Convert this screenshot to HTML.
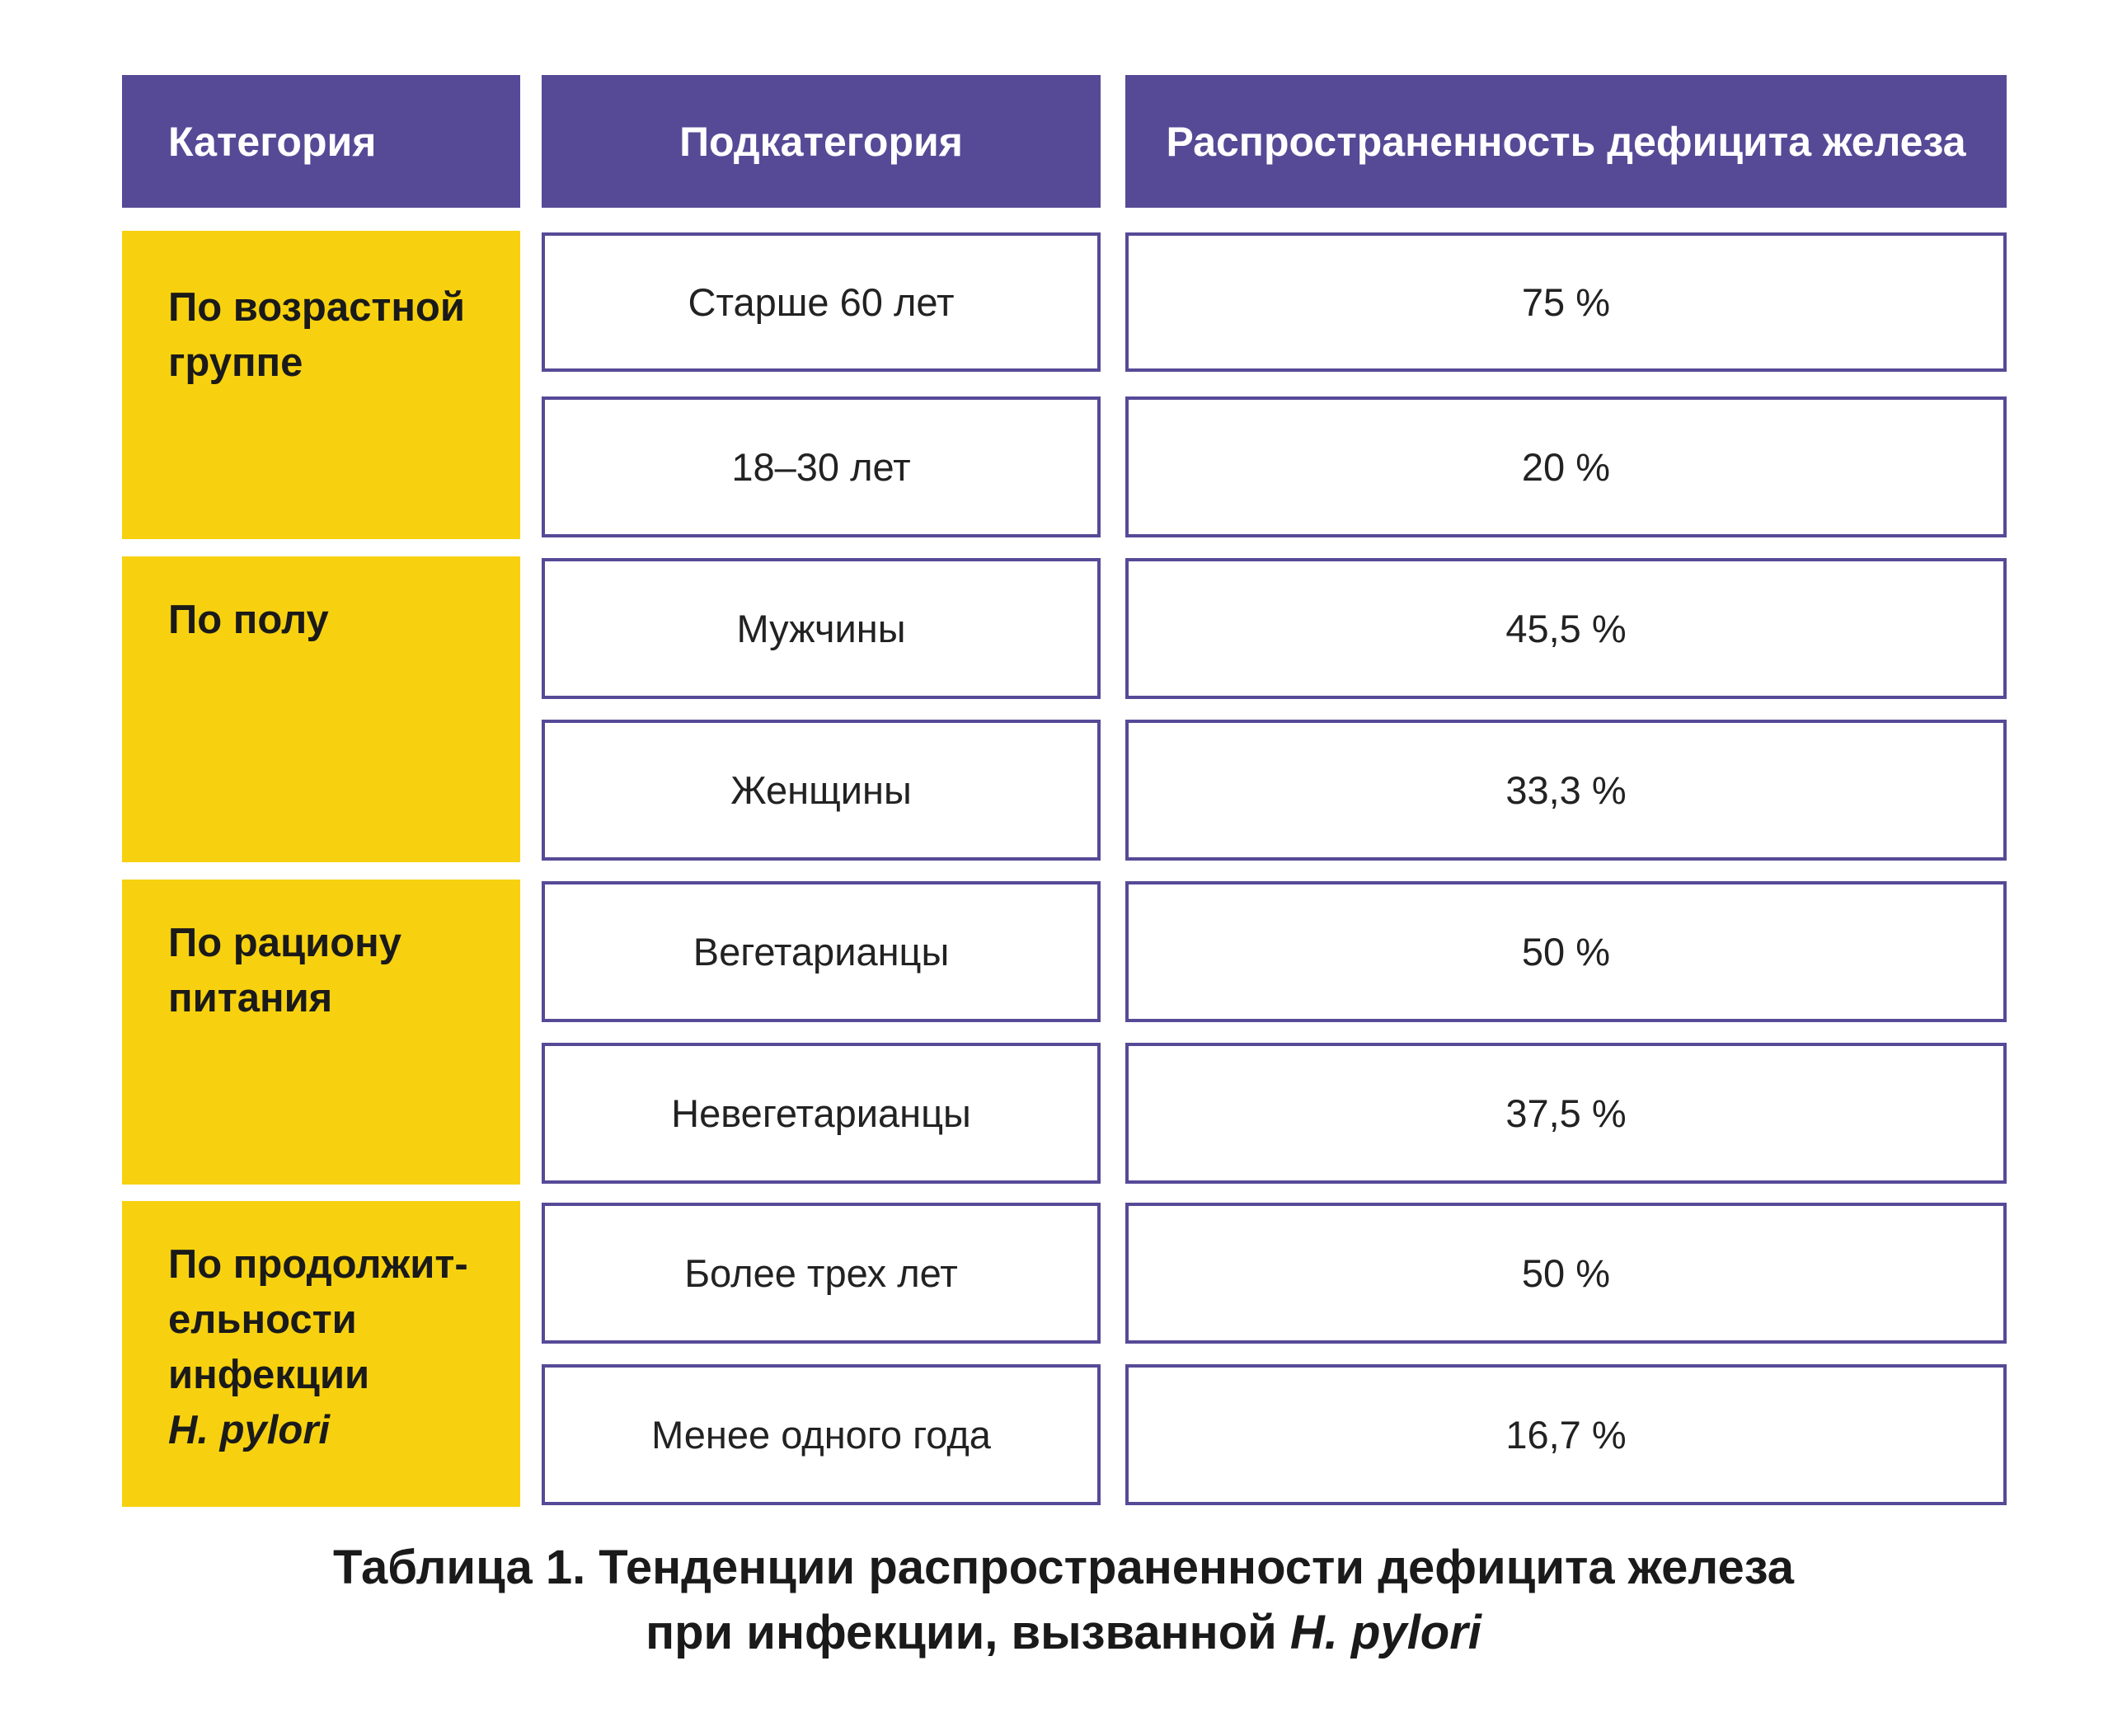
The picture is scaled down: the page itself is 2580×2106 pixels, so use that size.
<!DOCTYPE html>
<html><head><meta charset="utf-8"><style>
html,body{margin:0;padding:0;background:#fff;}
body{width:2580px;height:2106px;position:relative;overflow:hidden;font-family:"Liberation Sans","Noto Sans CJK SC",sans-serif;}
.b{position:absolute;box-sizing:border-box;}
.h{background:#564a97;color:#fff;font-weight:bold;font-size:50px;display:flex;align-items:center;}
.y{background:#f7d10f;color:#1a1a1a;font-weight:bold;font-size:49px;line-height:67px;padding:60px 0 0 56px;}
.c{border:4px solid #564a97;background:#fff;color:#222;font-size:47px;display:flex;align-items:center;justify-content:center;}
.cap{position:absolute;left:0;width:2580px;text-align:center;font-weight:bold;font-size:58px;color:#1a1a1a;}
</style></head><body>
<div class="b h" style="left:148px;top:91px;width:483px;height:161px;padding-left:56px;">Категория</div>
<div class="b h" style="left:657px;top:91px;width:678px;height:161px;justify-content:center;">Подкатегория</div>
<div class="b h" style="left:1365px;top:91px;width:1069px;height:161px;justify-content:center;">Распространенность дефицита железа</div>

<div class="b y" style="left:148px;top:280px;width:483px;height:374px;">По возрастной<br>группе</div>
<div class="b y" style="left:148px;top:675px;width:483px;height:371px;padding-top:44px;">По полу</div>
<div class="b y" style="left:148px;top:1067px;width:483px;height:370px;padding-top:44px;">По рациону<br>питания</div>
<div class="b y" style="left:148px;top:1457px;width:483px;height:371px;padding-top:44px;">По продолжит-<br>ельности<br>инфекции<br><i>H. pylori</i></div>

<div class="b c" style="left:657px;top:282px;width:678px;height:169px;">Старше 60 лет</div>
<div class="b c" style="left:1365px;top:282px;width:1069px;height:169px;">75 %</div>
<div class="b c" style="left:657px;top:481px;width:678px;height:171px;">18–30 лет</div>
<div class="b c" style="left:1365px;top:481px;width:1069px;height:171px;">20 %</div>
<div class="b c" style="left:657px;top:677px;width:678px;height:171px;">Мужчины</div>
<div class="b c" style="left:1365px;top:677px;width:1069px;height:171px;">45,5 %</div>
<div class="b c" style="left:657px;top:873px;width:678px;height:171px;">Женщины</div>
<div class="b c" style="left:1365px;top:873px;width:1069px;height:171px;">33,3 %</div>
<div class="b c" style="left:657px;top:1069px;width:678px;height:171px;">Вегетарианцы</div>
<div class="b c" style="left:1365px;top:1069px;width:1069px;height:171px;">50 %</div>
<div class="b c" style="left:657px;top:1265px;width:678px;height:171px;">Невегетарианцы</div>
<div class="b c" style="left:1365px;top:1265px;width:1069px;height:171px;">37,5 %</div>
<div class="b c" style="left:657px;top:1459px;width:678px;height:171px;">Более трех лет</div>
<div class="b c" style="left:1365px;top:1459px;width:1069px;height:171px;">50 %</div>
<div class="b c" style="left:657px;top:1655px;width:678px;height:171px;">Менее одного года</div>
<div class="b c" style="left:1365px;top:1655px;width:1069px;height:171px;">16,7 %</div>

<div class="cap" style="top:1868px;">Таблица 1. Тенденции распространенности дефицита железа</div>
<div class="cap" style="top:1947px;">при инфекции, вызванной <i>H. pylori</i></div>
</body></html>
